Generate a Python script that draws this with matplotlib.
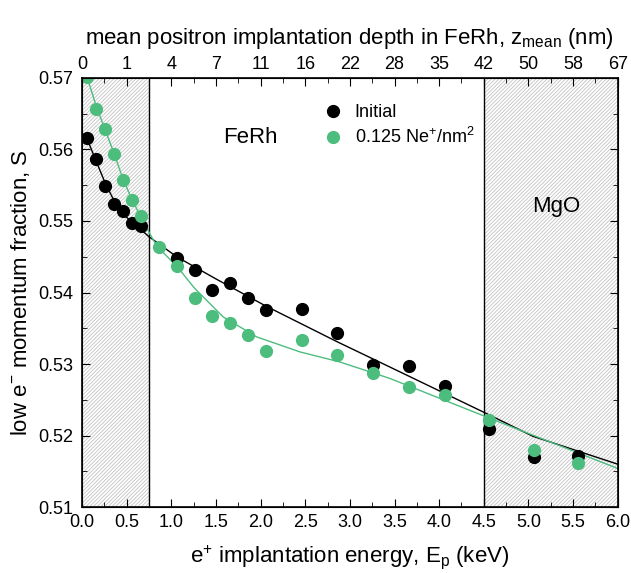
import numpy as np
import matplotlib
matplotlib.use('Agg')
import matplotlib.pyplot as plt
from matplotlib.ticker import MultipleLocator, FormatStrFormatter

# ----------------------------------------------------------------------------------------------------------------------
#  DATA
# ----------------------------------------------------------------------------------------------------------------------
E_initial = [0.06, 0.16, 0.26, 0.36, 0.46, 0.56, 0.66,
             1.06, 1.26, 1.46, 1.66, 1.86, 2.06, 2.46, 2.86, 3.26, 3.66, 4.06, 4.56, 5.06, 5.56]
S_initial = [0.5616, 0.5586, 0.5549, 0.5524, 0.5514, 0.5497, 0.5493,
             0.5448, 0.5431, 0.5403, 0.5413, 0.5393, 0.5376, 0.5377, 0.5344, 0.5298, 0.5297, 0.5269,
             0.5209, 0.5170, 0.5172]

E_ne = [0.06, 0.16, 0.26, 0.36, 0.46, 0.56, 0.66, 0.86,
        1.06, 1.26, 1.46, 1.66, 1.86, 2.06, 2.46, 2.86, 3.26, 3.66, 4.06, 4.56, 5.06, 5.56]
S_ne = [0.5701, 0.5657, 0.5628, 0.5594, 0.5557, 0.5529, 0.5507, 0.5464,
        0.5437, 0.5393, 0.5367, 0.5358, 0.5341, 0.5318, 0.5333, 0.5312, 0.5287, 0.5268,
        0.5257, 0.5222, 0.5180, 0.5161]

# fit curves
E_fit_initial = [0.06, 0.16, 0.26, 0.36, 0.46, 0.56, 0.66, 0.75, 1.06, 1.5, 2.06, 2.86, 3.445, 4.51, 5.05, 6.0]
S_fit_initial = [0.5614, 0.5583, 0.5553, 0.5528, 0.5510, 0.5498, 0.5488, 0.5478, 0.5450, 0.5419, 0.5381,
                 0.5331, 0.5296, 0.5232, 0.5199, 0.5160]
E_fit_ne = [0.06, 0.16, 0.26, 0.36, 0.46, 0.56, 0.66, 0.80, 0.86, 1.06, 1.26, 1.58, 1.955, 2.44, 2.885,
            3.445, 4.51, 6.0]
S_fit_ne = [0.5700, 0.5660, 0.5627, 0.5594, 0.5558, 0.5530, 0.5505, 0.5473, 0.5462, 0.5437, 0.5406,
            0.5366, 0.5338, 0.5317, 0.5303, 0.5280, 0.5227, 0.5154]

top_ticks = np.arange(0, 6.01, 0.5)
top_labels = ['0', '1', '4', '7', '11', '16', '22', '28', '35', '42', '50', '58', '67']

# ----------------------------------------------------------------------------------------------------------------------
#  PLOT
# ----------------------------------------------------------------------------------------------------------------------
plt.rcParams['font.family'] = ['Liberation Sans', 'DejaVu Sans']
plt.rcParams['mathtext.default'] = 'regular'
plt.rcParams['hatch.color'] = '#c2c2c2'
plt.rcParams['hatch.linewidth'] = 0.6

green = '#4DBD7E'
tick_size = 13
label_size = 16

fig = plt.figure(figsize=(6.31, 5.73), dpi=100)
ax = fig.add_axes([0.130, 0.115, 0.849, 0.749])

# shaded (non FeRh) regions
ax.axvspan(0, 0.75, facecolor='white', edgecolor='#c2c2c2', hatch='/////////', linewidth=0, zorder=0)
ax.axvspan(4.5, 6.0, facecolor='white', edgecolor='#c2c2c2', hatch='/////////', linewidth=0, zorder=0)
ax.axvline(0.75, color='black', lw=1.0, zorder=1)
ax.axvline(4.5, color='black', lw=1.0, zorder=1)

ax.plot(E_fit_initial, S_fit_initial, color='black', lw=1.0, zorder=2)
ax.plot(E_fit_ne, S_fit_ne, color=green, lw=1.0, zorder=2)
ax.plot(E_initial, S_initial, 'o', color='black', markersize=8.5, zorder=3, label='Initial')
ax.plot(E_ne, S_ne, 'o', color=green, markersize=8.5, zorder=4, label='0.125 Ne$^{+}$/nm$^{2}$')

ax.set_xlim(0, 6.0)
ax.set_ylim(0.51, 0.57)
ax.xaxis.set_major_locator(MultipleLocator(0.5))
ax.xaxis.set_minor_locator(MultipleLocator(0.25))
ax.yaxis.set_major_locator(MultipleLocator(0.01))
ax.yaxis.set_minor_locator(MultipleLocator(0.005))
ax.xaxis.set_major_formatter(FormatStrFormatter('%.1f'))
ax.yaxis.set_major_formatter(FormatStrFormatter('%.2f'))
ax.tick_params(which='both', direction='in', right=True, labelsize=tick_size)
ax.tick_params(which='major', length=6)
ax.tick_params(which='minor', length=3.5)
ax.tick_params(axis='y', pad=6.5)
ax.tick_params(axis='x', pad=5)

ax.set_xlabel('e$^{+}$ implantation energy, E$_{p}$ (keV)', fontsize=label_size, labelpad=9)
ax.set_ylabel('low e$^{-}$ momentum fraction, S', fontsize=label_size, labelpad=4)

ax2 = ax.twiny()
ax2.set_xlim(ax.get_xlim())
ax2.set_xticks(top_ticks)
ax2.set_xticklabels(top_labels)
ax2.xaxis.set_minor_locator(MultipleLocator(0.25))
ax2.tick_params(which='both', direction='in', labelsize=tick_size)
ax2.tick_params(which='major', length=6)
ax2.tick_params(which='minor', length=3.5)
ax2.set_xlabel('mean positron implantation depth in FeRh, z$_{mean}$ (nm)', fontsize=label_size, labelpad=9)

ax.text(1.88, 0.5609, 'FeRh', fontsize=16, ha='center', va='baseline')
ax.text(5.31, 0.5512, 'MgO', fontsize=16, ha='center', va='baseline')

ax.legend(loc='upper left', bbox_to_anchor=(0.435, 0.955), frameon=False, fontsize=13,
          handletextpad=0.6, labelspacing=0.3, handlelength=1.2, borderaxespad=0)

for s in ax.spines.values():
    s.set_linewidth(1.2)

fig.savefig('out.png', dpi=100)
